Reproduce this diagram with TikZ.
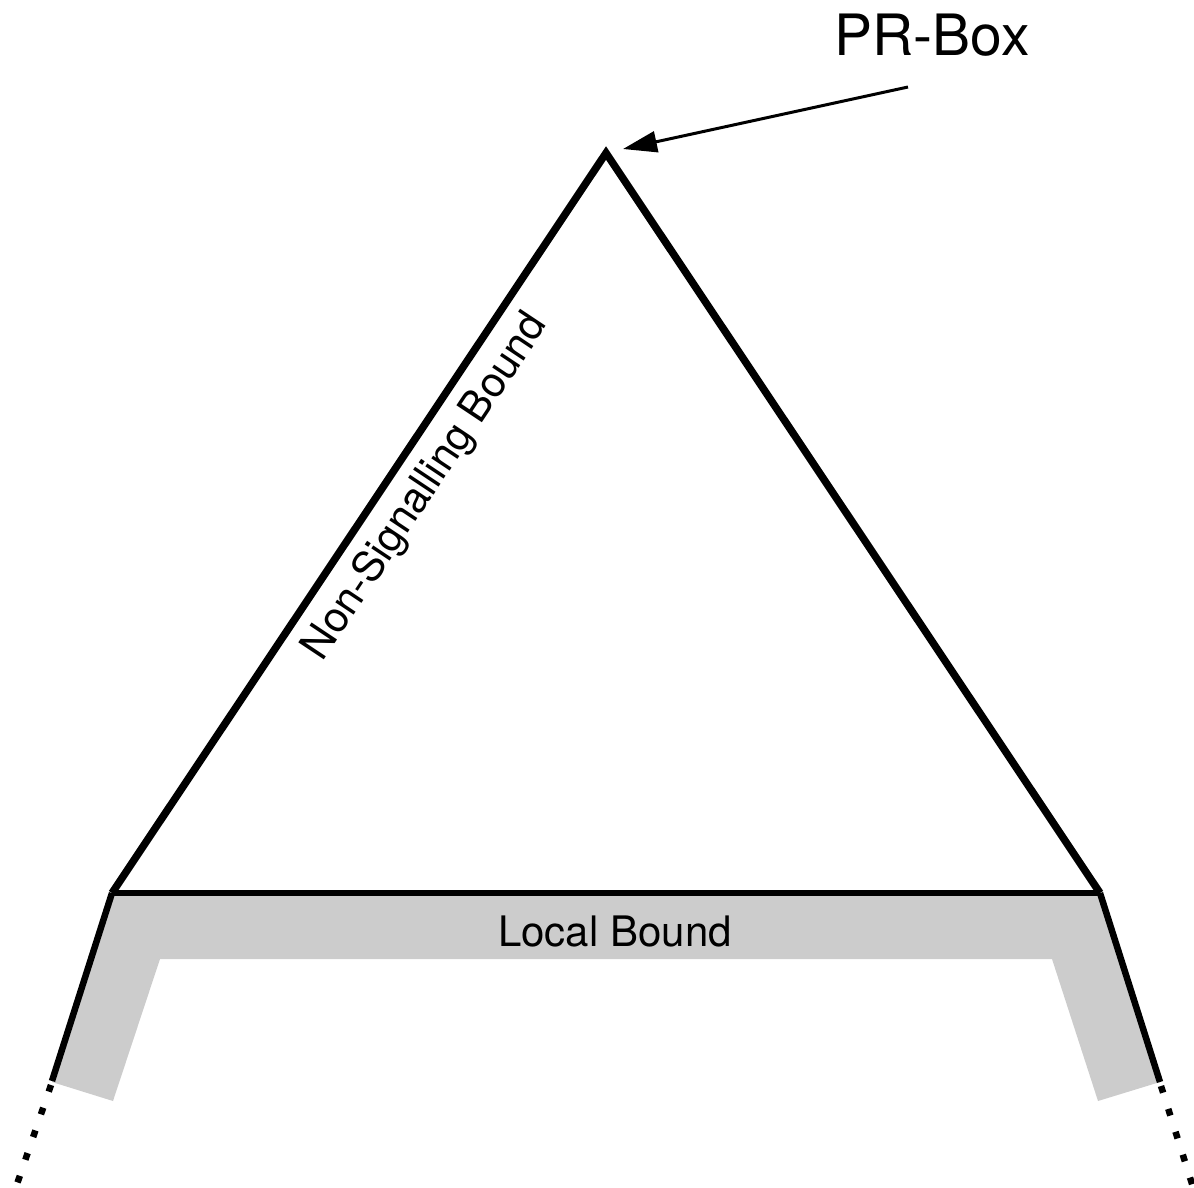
\documentclass[tikz,border=0pt]{standalone}
\usepackage{fontspec}
\setmainfont{TeX Gyre Heros}
\usetikzlibrary{arrows.meta}
\definecolor{bandgray}{HTML}{CCCCCC}
\tikzset{
  bound/.style={line width=7.5pt, line cap=butt, line join=miter},
  legline/.style={line width=6.5pt, line cap=butt},
  dotted leg/.style={line width=6.5pt, dash pattern=on 7pt off 17pt},
  label/.style={inner sep=0pt, font=\fontsize{42}{50}\selectfont},
  pointer/.style={line width=3pt, -{Triangle[length=34pt,width=21pt]}}
}
\begin{document}
\begin{tikzpicture}[x=1pt,y=-1pt]
\useasboundingbox (0,0) rectangle (1194,1187);
% gray band (local bound region)
\fill[bandgray] (112,896) -- (1100,896) -- (1160,1082) -- (1098,1101) -- (1052,959)
  -- (160,959) -- (113,1101) -- (52,1082) -- cycle;
% corners
\coordinate (apex) at (606,153);
\coordinate (bl) at (112,893);
\coordinate (br) at (1100,893);
\coordinate (ll) at (52,1081);
\coordinate (rl) at (1160,1082);
\coordinate (lde) at (16,1187);
\coordinate (rds) at (1161,1086);
\coordinate (lds) at (51,1085);
\coordinate (rde) at (1193,1187);
% triangle
\draw[legline] (bl) -- (ll);
\draw[legline] (br) -- (rl);
\draw[bound] (bl) -- (apex) -- (br);
\draw[bound, line width=6.3pt] (bl) -- (br);
% dotted continuations
\draw[dotted leg] (lds) -- (lde);
\draw[dotted leg] (rds) -- (rde);
% labels
\node[label, font=\fontsize{57}{64}\selectfont, anchor=base] (prbox) at (932,55) {PR-Box};
\coordinate (prtail) at (908,87);
\coordinate (prtip) at (623,149);
\draw[pointer] (prtail) -- (prtip);
\node[label, rotate=56.3] (ns) at (426,487) {Non-Signalling Bound};
\node[label] (lb) at (615,931) {Local Bound};
\end{tikzpicture}
\end{document}
